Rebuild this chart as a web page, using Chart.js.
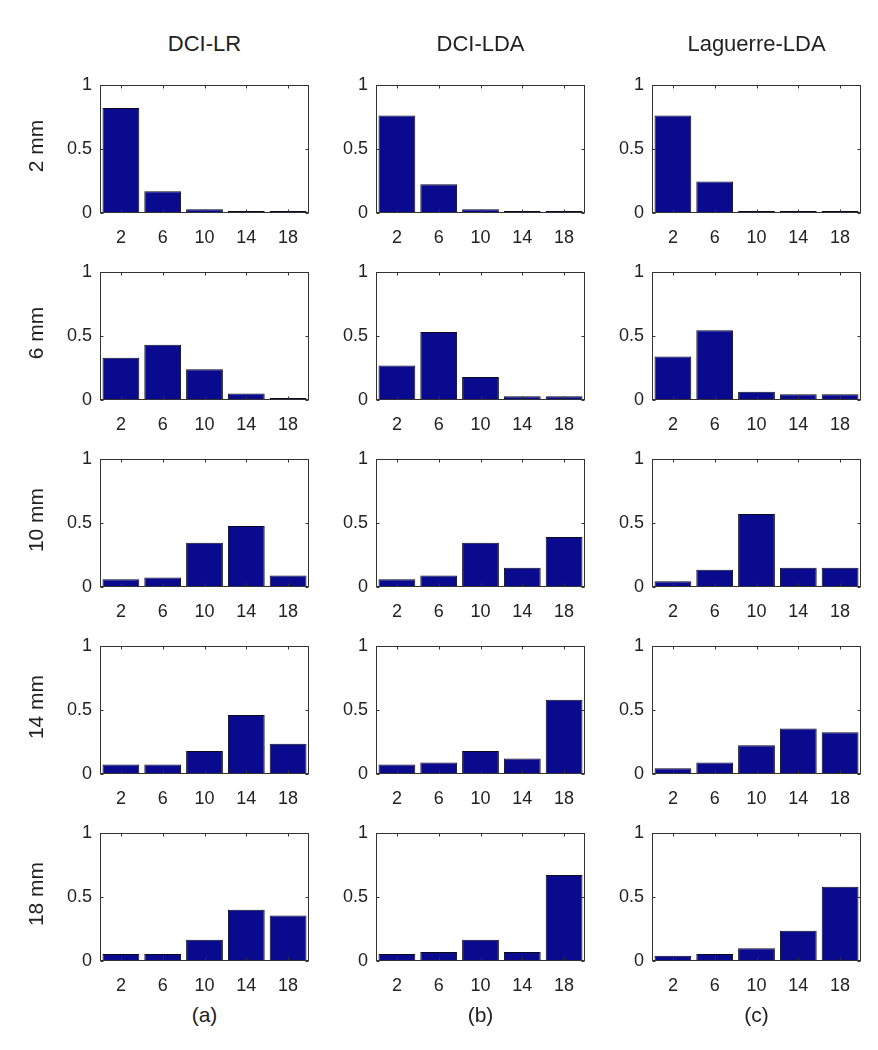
<!DOCTYPE html>
<html>
<head>
<meta charset="utf-8">
<script src="https://cdn.jsdelivr.net/npm/chart.js@4.4.1/dist/chart.umd.min.js"></script>
<style>
  body { margin: 0; background: #fff; }
  #page { position: relative; width: 878px; height: 1050px; background: #fff; font-family: "Liberation Sans", Arial, sans-serif; color: #222; }
  canvas { position: absolute; }
  .lbl { position: absolute; font-size: 21px; white-space: nowrap; transform: translate(-50%, -50%); }
  .title { font-size: 22px; }
  .rot { transform: translate(-50%, -50%) rotate(-90deg); font-size: 21px; }
</style>
</head>
<body>
<div id="page"></div>
<script>
const categories = ["2", "6", "10", "14", "18"];
const yTicks = [0, 0.5, 1];
const methods = ["DCI-LR", "DCI-LDA", "Laguerre-LDA"];
const sizes = ["2 mm", "6 mm", "10 mm", "14 mm", "18 mm"];
const panelTags = ["(a)", "(b)", "(c)"];

// one row per source size, one value per category
const dciLR = [
    [0.82, 0.17, 0.03, 0.01, 0.01],
    [0.33, 0.43, 0.24, 0.05, 0.015],
    [0.06, 0.075, 0.345, 0.475, 0.09],
    [0.075, 0.075, 0.18, 0.46, 0.235],
    [0.055, 0.055, 0.165, 0.40, 0.355]
];
const dciLDA = [
    [0.76, 0.225, 0.03, 0.01, 0.01],
    [0.27, 0.53, 0.18, 0.03, 0.03],
    [0.06, 0.09, 0.345, 0.15, 0.39],
    [0.075, 0.09, 0.18, 0.12, 0.58],
    [0.055, 0.07, 0.165, 0.07, 0.67]
];
const laguerreLDA = [
    [0.76, 0.245, 0.01, 0.01, 0.01],
    [0.34, 0.545, 0.065, 0.045, 0.045],
    [0.045, 0.135, 0.57, 0.15, 0.15],
    [0.045, 0.09, 0.225, 0.355, 0.325],
    [0.04, 0.055, 0.10, 0.235, 0.58]
];
const seriesByMethod = [dciLR, dciLDA, laguerreLDA];

const plotLeft = [100, 376, 652];
const plotTop0 = 78;
const rowStep = 187;
const plotW = 209;
const plotH = 135;
const padL = 60, padT = 12, padR = 8, padB = 36;

const page = document.getElementById("page");

function addLabel(text, x, y, cls) {
    const d = document.createElement("div");
    d.className = "lbl" + (cls ? " " + cls : "");
    d.textContent = text;
    d.style.left = x + "px";
    d.style.top = y + "px";
    page.appendChild(d);
}

// box around the axes with inward ticks (MATLAB look)
const boxPlugin = {
    id: "box",
    afterDraw(chart) {
        const { ctx, chartArea: a, scales } = chart;
        const l = Math.round(a.left) + 0.5, r = Math.round(a.right) - 0.5;
        const t = Math.round(a.top) + 0.5, b = Math.round(a.bottom) - 0.5;
        ctx.save();
        ctx.strokeStyle = "#333";
        ctx.lineWidth = 1;
        ctx.strokeRect(l, t, r - l, b - t);
        ctx.beginPath();
        scales.x.ticks.forEach((tk, i) => {
            const px = Math.round(scales.x.getPixelForTick(i)) + 0.5;
            ctx.moveTo(px, b); ctx.lineTo(px, b - 3);
            ctx.moveTo(px, t); ctx.lineTo(px, t + 3);
        });
        scales.y.ticks.forEach((tk, i) => {
            const py = Math.round(scales.y.getPixelForTick(i)) + 0.5;
            ctx.moveTo(l, py); ctx.lineTo(l + 3, py);
            ctx.moveTo(r, py); ctx.lineTo(r - 3, py);
        });
        ctx.stroke();
        ctx.restore();
    }
};

function makeChart(col, row) {
    const c = document.createElement("canvas");
    const w = padL + plotW + padR;
    const h = padT + plotH + padB;
    c.width = w; c.height = h;
    c.style.left = (plotLeft[col] - padL) + "px";
    c.style.top = (plotTop0 + row * rowStep - padT) + "px";
    page.appendChild(c);

    new Chart(c, {
        type: "bar",
        data: {
            labels: categories,
            datasets: [{
                data: seriesByMethod[col][row],
                backgroundColor: "#0a0a8e",
                borderColor: "#0b0b1e",
                borderWidth: 1,
                borderSkipped: false,
                minBarLength: 2,
                categoryPercentage: 1,
                barPercentage: 0.88
            }]
        },
        options: {
            responsive: false,
            animation: false,
            layout: { padding: { top: padT, right: padR, left: 0, bottom: 0 } },
            plugins: { legend: { display: false }, tooltip: { enabled: false } },
            scales: {
                x: {
                    grid: { display: false, drawTicks: false },
                    border: { display: false },
                    ticks: { color: "#222", font: { family: "Liberation Sans", size: 18 }, padding: 14, maxRotation: 0 },
                    afterFit(s) { s.height = padB; }
                },
                y: {
                    min: 0, max: 1,
                    afterBuildTicks(s) { s.ticks = yTicks.map(v => ({ value: v })); },
                    grid: { display: false, drawTicks: false },
                    border: { display: false },
                    ticks: {
                        color: "#222", font: { family: "Liberation Sans", size: 18 }, padding: 8,
                        callback: v => String(v)
                    },
                    afterFit(s) { s.width = padL; }
                }
            }
        },
        plugins: [boxPlugin]
    });
}

for (let col = 0; col < 3; col++) {
    for (let row = 0; row < 5; row++) makeChart(col, row);
    addLabel(methods[col], plotLeft[col] + plotW / 2, 44, "title");
    addLabel(panelTags[col], plotLeft[col] + plotW / 2, 1015);
}
sizes.forEach((s, row) => addLabel(s, 36, plotTop0 + row * rowStep + plotH / 2, "rot"));
</script>
</body>
</html>
